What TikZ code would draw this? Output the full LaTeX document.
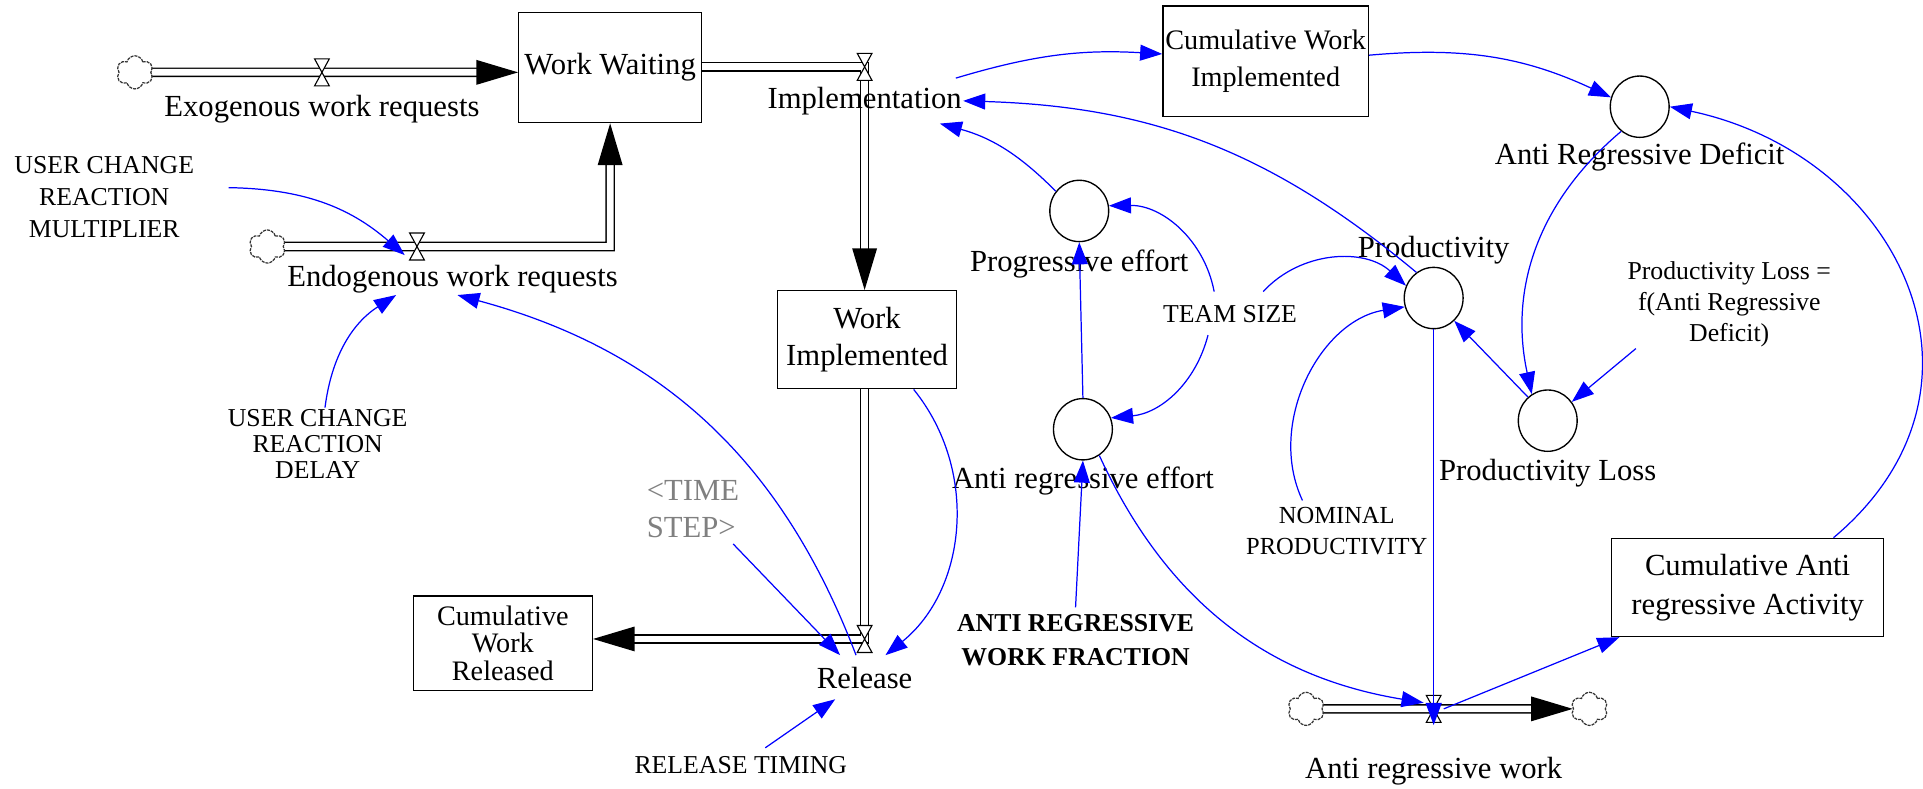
\documentclass[tikz,border=0pt]{standalone}
\usepackage{fontspec}
\setmainfont{Liberation Serif}
\usetikzlibrary{arrows.meta,positioning,shapes.geometric,shapes.symbols,backgrounds}

\begin{document}
\begin{tikzpicture}[
  x=1pt,y=1pt,
  stock/.style={draw,line width=1.1pt,align=center,inner sep=2pt,font=\fontsize{25}{30}\selectfont},
  aux/.style={draw,ellipse,line width=1.1pt,minimum width=48pt,minimum height=50pt,inner sep=0pt},
  lbl/.style={align=center,inner sep=1pt,font=\fontsize{25}{27}\selectfont},
  capslbl/.style={align=center,inner sep=1pt,font=\fontsize{21}{26}\selectfont},
  cloudnode/.style={cloud,cloud puffs=6,cloud puff arc=150,aspect=1.1,minimum width=30pt,minimum height=27pt,inner sep=0pt,draw=black!80,line width=1pt,dash pattern=on 2.5pt off 0.8pt},
  valve/.style={minimum width=16pt,minimum height=26pt,inner sep=0pt,
    path picture={\draw[line width=0.9pt,fill=white] ([shift={(2pt,-2pt)}]path picture bounding box.north west) -- ([shift={(-2pt,-2pt)}]path picture bounding box.north east) -- ([shift={(2pt,2pt)}]path picture bounding box.south west) -- ([shift={(-2pt,2pt)}]path picture bounding box.south east) -- cycle;}},
  pipe/.style={line width=1.2pt,double=white,double distance=5.5pt,line join=miter,-{Triangle[length=34pt,width=20pt]}},
  link/.style={blue,line width=1pt,-{Triangle[length=18pt,width=13pt]}}
]
\useasboundingbox (0,0) rectangle (1568,-643);

% stocks
\node[stock,minimum width=149pt,minimum height=90pt] (waiting) at (497.5,-55) {Work Waiting};
\node[stock,minimum width=146pt,minimum height=80pt] (implemented) at (707,-277) {Work\\Implemented};
\node[stock,minimum width=146pt,minimum height=77pt,font=\fontsize{23}{22.5}\selectfont] (released) at (410,-524.5) {Cumulative\\Work\\Released};
\node[stock,minimum width=163pt,minimum height=90pt,font=\fontsize{23}{30}\selectfont] (cumImpl) at (1032,-50) {Cumulative Work\\Implemented};
\node[stock,minimum width=222pt,minimum height=80pt,font=\fontsize{25}{32}\selectfont] (cumAnti) at (1425,-479) {Cumulative Anti\\regressive Activity};

% clouds and valves
\node[cloudnode] (srcExo) at (110,-59) {};
\node[valve] (vExo) at (262.5,-59) {};
\node[cloudnode] (srcEndo) at (218,-201) {};
\node[valve] (vEndo) at (340,-201) {};
\node[valve] (vImpl) at (705,-54.5) {};
\node[valve] (vRel) at (705,-521) {};
\node[cloudnode] (srcAnti) at (1065,-578) {};
\node[valve] (vAnti) at (1169,-578) {};
\node[cloudnode] (sinkAnti) at (1296,-578) {};

% flow names
\node[lbl,below=4pt of vExo] (exoLbl) {Exogenous work requests};
\node[lbl] (endoLbl) at (369,-228) {Endogenous work requests};
\node[lbl,below=2pt of vImpl] (implLbl) {Implementation};
\node[lbl,below=9pt of vRel] (relLbl) {Release};
\node[lbl,below=25pt of vAnti] (antiLbl) {Anti regressive work};

% auxiliaries
\node[aux] (progEff) at (880,-172) {};
\node[lbl,below=5pt of progEff] (progLbl) {Progressive effort};
\node[aux] (antiEff) at (883,-350) {};
\node[lbl,below=4pt of antiEff] (antiEffLbl) {Anti regressive effort};
\node[aux] (prod) at (1169,-243) {};
\node[lbl,above=1pt of prod] (prodLbl) {Productivity};
\node[aux] (prodLoss) at (1262,-343) {};
\node[lbl,below=5pt of prodLoss] (prodLossLbl) {Productivity Loss};
\node[aux] (deficit) at (1337,-87) {};
\node[lbl,below=3pt of deficit] (deficitLbl) {Anti Regressive Deficit};

% constants
\node[capslbl] (ucrm) at (85,-161) {USER CHANGE\\REACTION\\MULTIPLIER};
\node[capslbl,font=\fontsize{21}{21.5}\selectfont] (ucrd) at (259,-362) {USER CHANGE\\REACTION\\DELAY};
\node[lbl,align=left,text=black!50,font=\fontsize{25}{30}\selectfont] (timeStep) at (565,-415) {<TIME\\STEP>};
\node[capslbl] (relTiming) at (604,-624) {RELEASE TIMING};
\node[capslbl] (teamSize) at (1003,-256) {TEAM SIZE};
\node[capslbl,font=\fontsize{20}{26}\selectfont] (nominal) at (1090,-433) {NOMINAL\\PRODUCTIVITY};
\node[capslbl,font=\bfseries\fontsize{21}{27}\selectfont] (antiFrac) at (877,-522) {ANTI REGRESSIVE\\WORK FRACTION};
\node[lbl,font=\fontsize{21}{25.5}\selectfont] (lossFn) at (1410,-248) {Productivity Loss =\\f(Anti Regressive\\Deficit)};

% material flows
\begin{scope}[on background layer]
\draw[pipe] (srcExo) -- (vExo.center) -- (waiting.west |- vExo.center);
\draw[pipe] (srcEndo) -- (vEndo.center) -- (vEndo.center -| waiting.south) -- (waiting.south);
\draw[pipe] (waiting.east |- vImpl.center) -- (vImpl.center) -- (vImpl.center |- implemented.north);
\draw[pipe] (vRel.center |- implemented.south) -- (vRel.center) -- (released.east |- vRel.center);
\draw[pipe] (srcAnti) -- (vAnti.center) -- (sinkAnti);
\end{scope}

% information links
\draw[link] ([shift={(27pt,8pt)}]ucrm.east) to[bend left=20] ([shift={(-10pt,-7pt)}]vEndo.center);
\draw[link] ([xshift=6pt]ucrd.north) to[bend left=25] ([xshift=-46pt]endoLbl.south);
\draw[link] ([xshift=-7pt]vRel.south) to[bend right=27] ([xshift=4pt]endoLbl.south);
\draw[link] ([xshift=38pt]implemented.south) to[bend left=45] ([xshift=17pt]vRel.south);
\draw[link] ([shift={(-6pt,-4pt)}]timeStep.south east) -- ([xshift=-20pt]vRel.south);
\draw[link] ([shift={(20pt,6pt)}]relTiming.north) -- ([shift={(-24pt,-7pt)}]relLbl.south);
\draw[link] (progEff.140) to[bend right=15] ([shift={(-19pt,-6pt)}]implLbl.south east);
\draw[link] (prod.124) to[bend right=19] (implLbl.east);
\draw[link] ([shift={(-6pt,6pt)}]implLbl.north east) to[bend left=10] ([yshift=6pt]cumImpl.west);
\draw[link] ([yshift=5pt]cumImpl.east) to[bend left=15] (deficit.162);
\draw[link] ([xshift=70pt]cumAnti.north) to[out=40,in=-12,looseness=1.3] (deficit.east);
\draw[link] (deficit.233) to[bend right=31] (prodLoss.121);
\draw[link] ([xshift=8pt]lossFn.south west) -- (prodLoss.38);
\draw[link] (prodLoss.130) -- (prod.-48);
\draw[link] ([shift={(-13pt,10pt)}]teamSize.north) to[bend right=40] (progEff.10);
\draw[link] ([shift={(-18pt,-9pt)}]teamSize.south) to[bend left=35] (antiEff.22);
\draw[link] ([shift={(27pt,10pt)}]teamSize.north) to[bend left=45] (prod.156);
\draw[link] ([shift={(-28pt,4pt)}]nominal.north) to[bend left=53] (prod.197);
\draw[link] (prod.south) -- (prod.south |- vAnti.south);
\draw[link] (antiEff.-58) to[bend right=28] ([yshift=5pt]vAnti.west);
\draw[link] ([yshift=5pt]antiFrac.north) -- (antiEff.south);
\draw[link] (antiEff.north) -- (progEff.south);
\draw[link] (vAnti.east) -- ([xshift=7pt]cumAnti.south west);
\end{tikzpicture}
\end{document}
